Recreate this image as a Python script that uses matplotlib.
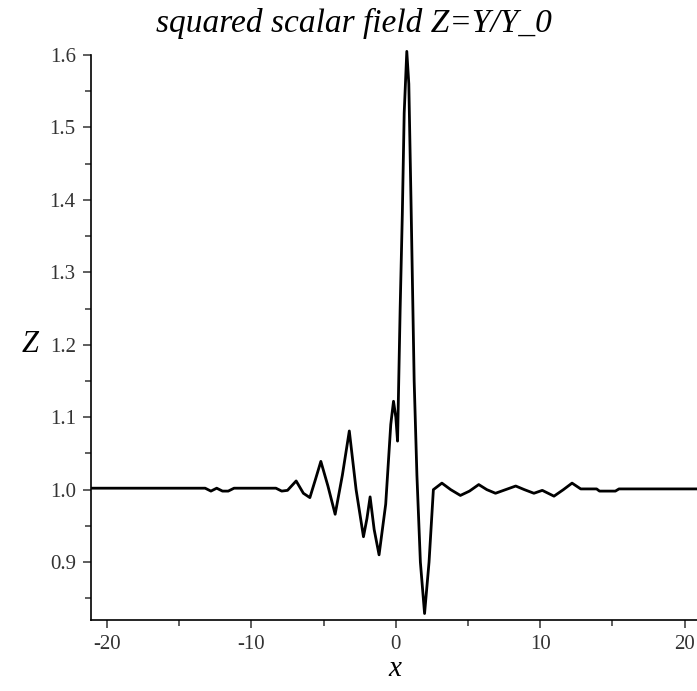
import numpy as np
import matplotlib.pyplot as plt

# curve
x_vals = [-21.0, -13.2, -12.8, -12.4, -12.0, -11.6, -11.2, -8.3, -7.9, -7.5,
          -6.9, -6.4, -5.95, -5.55, -5.19, -4.7, -4.2, -3.7, -3.22, -2.75,
          -2.24, -2.0, -1.78, -1.5, -1.16, -0.7, -0.35, -0.16, 0.0, 0.12,
          0.3, 0.45, 0.58, 0.76, 0.9, 1.05, 1.27, 1.46, 1.7, 1.99,
          2.3, 2.6, 3.19, 3.8, 4.47, 5.1, 5.74, 6.3, 6.9, 7.6,
          8.3, 8.9, 9.56, 10.14, 10.95, 11.6, 12.2, 12.8, 13.9, 14.1,
          15.2, 15.45, 21.0]
z_vals = [1.002, 1.002, 0.998, 1.002, 0.998, 0.998, 1.002, 1.002, 0.998, 0.999,
          1.012, 0.995, 0.989, 1.015, 1.039, 1.005, 0.966, 1.02, 1.081, 1.0,
          0.935, 0.96, 0.99, 0.945, 0.910, 0.98, 1.09, 1.122, 1.10, 1.067,
          1.25, 1.38, 1.52, 1.605, 1.56, 1.40, 1.15, 1.02, 0.90, 0.829,
          0.90, 1.0, 1.009, 1.0, 0.992, 0.998, 1.007, 1.0, 0.995, 1.0,
          1.005, 1.0, 0.995, 0.999, 0.991, 1.0, 1.009, 1.001, 1.001, 0.998,
          0.998, 1.001, 1.001]

x_ticks = [-20, -10, 0, 10, 20]
y_ticks = [0.9, 1.0, 1.1, 1.2, 1.3, 1.4, 1.5, 1.6]

serif = ['Liberation Serif', 'DejaVu Serif']

fig = plt.figure(figsize=(6.97, 6.91), dpi=100)
ax = fig.add_axes([0.1306, 0.1027, 0.8694, 0.8177])

ax.plot(x_vals, z_vals, color='black', linewidth=2.0, clip_on=False)

ax.set_xlim(-21.1, 20.85)
ax.set_ylim(0.82, 1.6)

ax.spines['top'].set_visible(False)
ax.spines['right'].set_visible(False)
ax.spines['left'].set_linewidth(1.2)
ax.spines['bottom'].set_linewidth(1.2)

ax.set_xticks(x_ticks)
ax.set_xticklabels([f"{t}" for t in x_ticks], family=serif, fontsize=15)
ax.set_xticks([-15, -5, 5, 15], minor=True)
ax.set_yticks(y_ticks)
ax.set_yticklabels([f"{t:.1f}" for t in y_ticks], family=serif, fontsize=15)
ax.set_yticks(np.arange(0.85, 1.6, 0.1), minor=True)

ax.tick_params(which='major', direction='out', length=6, width=1.1, colors='#333333', pad=5)
ax.tick_params(which='minor', direction='out', length=4, width=1.1, colors='#333333')

fig.text(0.508, 0.988, "squared scalar field Z=Y/Y_0", family=serif, style='italic',
         fontsize=24, ha='center', va='top')
ax.text(-0.1, 0.487, "Z", transform=ax.transAxes, family=serif, style='italic',
        fontsize=22, ha='center', va='center')
fig.text(0.567, 0.022, "x", family=serif, style='italic', fontsize=21, ha='center', va='baseline')

fig.savefig("out.png", dpi=100)
